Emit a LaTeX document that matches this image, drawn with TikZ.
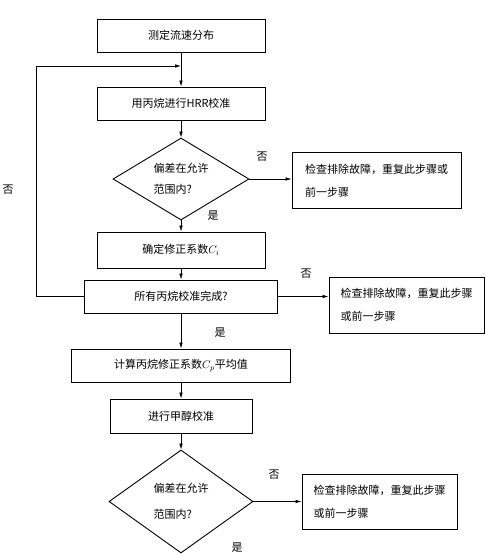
\documentclass[tikz,border=0pt]{standalone}
\usepackage{fontspec}
\setmainfont{Noto Sans CJK SC}
\usepackage{tikz}
\usetikzlibrary{arrows.meta,shapes.geometric}

\begin{document}
\begin{tikzpicture}[x=1pt, y=-1pt,
  box/.style={draw, line width=0.9pt, minimum height=33pt, inner sep=2pt, font=\fontsize{11}{13}\selectfont, align=center},
  fixbox/.style={draw, line width=0.9pt, minimum height=56pt, inner sep=2pt, align=left, font=\fontsize{11}{23}\selectfont},
  dec/.style={draw, diamond, line width=0.9pt, inner sep=0pt, align=left},
  lab/.style={font=\fontsize{11}{13}\selectfont, inner sep=1pt},
  arr/.style={-{Latex[length=6pt,width=3.5pt]}, line width=0.6pt}]
  \useasboundingbox (0,0) rectangle (486,555);
  % ---------------- main column
  \node[box, minimum width=168pt] (flow) at (181,35.5) {测定流速分布};
  \node[box, minimum width=168pt] (hrr) at (181,103.5) {用丙烷进行HRR校准};
  \node[dec, aspect=1.66, minimum width=136pt, minimum height=82pt, font=\fontsize{11}{21}\selectfont] (dev1) at (181,179) {偏差在允许\\范围内?};
  \node[box, minimum width=168pt, minimum height=36pt] (ci) at (181,250) {确定修正系数$C_i$};
  \node[box, minimum width=193pt] (done) at (181,296.5) {所有丙烷校准完成?};
  \node[box, minimum width=219pt] (avg) at (181,365.5) {计算丙烷修正系数$C_p$平均值};
  \node[box, minimum width=142pt, minimum height=34pt] (meth) at (181,416) {进行甲醇校准};
  \node[dec, aspect=1.4, minimum width=144pt, minimum height=103pt, font=\fontsize{11}{26}\selectfont] (dev2) at (181,501.5) {偏差在允许\\范围内?};
  % ---------------- fault boxes
  \node[fixbox, minimum width=169pt] (fix1) at (376.5,180.5) {检查排除故障，重复此步骤或\\前一步骤};
  \node[fixbox, minimum width=155pt] (fix2) at (406.5,305) {检查排除故障，重复此步骤\\或前一步骤};
  \node[fixbox, minimum width=155pt, minimum height=55pt] (fix3) at (379.5,501.5) {检查排除故障，重复此步骤\\或前一步骤};
  % ---------------- connectors
  \coordinate (join) at (181,66);
  \coordinate (back) at (36,66);
  \draw[arr] (flow) -- (hrr);
  \draw[arr] (hrr) -- (dev1);
  \draw[arr] (dev1) -- (ci);
  \draw[arr] (ci) -- (done);
  \draw[arr] (done) -- (avg);
  \draw[arr] (avg) -- (meth);
  \draw[arr] (meth) -- (dev2);
  \draw[arr] (dev1.east) -- (dev1.east -| fix1.west);
  \draw[arr] (done.east) -- (done.east -| fix2.west);
  \draw[arr] (dev2.east) -- (dev2.east -| fix3.west);
  \draw[arr] (done.west) -| (back) -- (join);
  % ---------------- labels
  \node[lab] (no1) at (262,157) {否};
  \node[lab] (no2) at (8,190) {否};
  \node[lab] (no3) at (306,274) {否};
  \node[lab] (no4) at (274,475) {否};
  \node[lab] (yes1) at (213,216) {是};
  \node[lab] (yes2) at (220,333) {是};
  \node[lab] (yes3) at (237,548) {是};
\end{tikzpicture}
\end{document}
